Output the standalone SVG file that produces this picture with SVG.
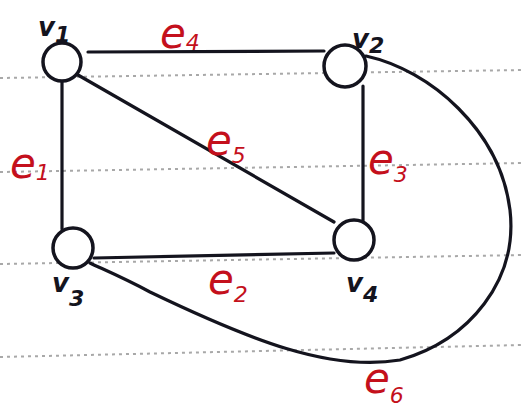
<svg xmlns="http://www.w3.org/2000/svg" width="523" height="411" viewBox="0 0 523 411">
<style>
.paper{stroke:#a8a8a8;stroke-width:2;stroke-dasharray:3 4;fill:none}
.edge{stroke:#14141e;stroke-width:3.2;fill:none;stroke-linecap:round}
.node{stroke:#14141e;stroke-width:3.5;fill:#fff}
.vl{font-family:"DejaVu Sans",sans-serif;font-style:italic;font-weight:bold;font-size:26px;fill:#14141e}
.el{font-family:"DejaVu Sans",sans-serif;font-style:italic;font-size:42px;fill:#c4101c}
.sub{font-size:22px}
</style>
<rect width="523" height="411" fill="#fff"/>
<g id="paper">
<line class="paper" x1="0" y1="78" x2="523" y2="70"/>
<line class="paper" x1="0" y1="172" x2="523" y2="163"/>
<line class="paper" x1="0" y1="264" x2="523" y2="255"/>
<line class="paper" x1="0" y1="357" x2="523" y2="345"/>
</g>
<g id="connectors">
<line class="edge" x1="88" y1="52" x2="324" y2="51"/>
<line class="edge" x1="62" y1="82" x2="62" y2="229"/>
<line class="edge" x1="363" y1="86" x2="363" y2="221"/>
<line class="edge" x1="78" y1="75" x2="334" y2="222"/>
<line class="edge" x1="94" y1="258" x2="334" y2="253"/>
<path class="edge" d="M366 56 C 430 70, 500 130, 510 210 C 518 280, 470 340, 400 360 C 330 372, 250 340, 150 292 C 120 276, 100 268, 90 263"/>
</g>
<g id="v1"><circle class="node" cx="62" cy="62" r="19"/><text class="vl" x="38" y="36">v<tspan class="sub" dy="6">1</tspan></text></g>
<g id="v2"><circle class="node" cx="345" cy="66" r="21"/><text class="vl" x="352" y="48">v<tspan class="sub" dy="5">2</tspan></text></g>
<g id="v3"><circle class="node" cx="73" cy="248" r="20"/><text class="vl" x="52" y="292">v<tspan class="sub" dy="14">3</tspan></text></g>
<g id="v4"><circle class="node" cx="354" cy="240" r="20"/><text class="vl" x="346" y="292">v<tspan class="sub" dy="10">4</tspan></text></g>
<g id="labels">
<text class="el" x="160" y="48">e<tspan class="sub" dy="2">4</tspan></text>
<text class="el" x="206" y="155">e<tspan class="sub" dy="8">5</tspan></text>
<text class="el" x="10" y="178">e<tspan class="sub" dy="2">1</tspan></text>
<text class="el" x="368" y="174">e<tspan class="sub" dy="8">3</tspan></text>
<text class="el" x="208" y="294">e<tspan class="sub" dy="8">2</tspan></text>
<text class="el" x="364" y="393">e<tspan class="sub" dy="10">6</tspan></text>
</g>
</svg>
